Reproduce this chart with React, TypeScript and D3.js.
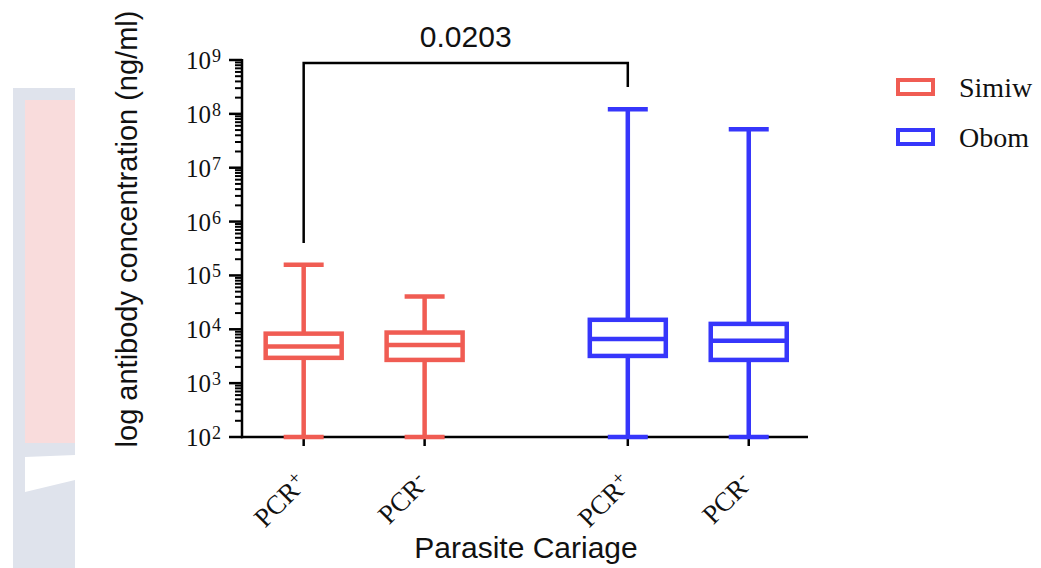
import React from "react";
import * as d3 from "d3";

const categories = ["PCR+", "PCR-", "PCR+", "PCR-"];
const labelBase = ["PCR", "PCR", "PCR", "PCR"];
const labelSup = ["+", "-", "+", "-"];
const groups = ["Simiw", "Simiw", "Obom", "Obom"];
const slots = [0, 1, 2.68, 3.68];
const mins = [100, 100, 100, 100];
const q1s = [2950, 2700, 3200, 2700];
const medians = [4800, 5100, 6600, 6100];
const q3s = [8300, 8700, 15000, 12600];
const maxs = [158000, 40700, 122000000, 52000000];
const legendNames = ["Simiw", "Obom"];
const pValue = "0.0203";
const yTitle = "log antibody concentration (ng/ml)";
const xTitle = "Parasite Cariage";

const W = 1041;
const H = 568;
const colors: Record<string, string> = { Simiw: "#f05c53", Obom: "#3636fb" };
const SERIF = "'Liberation Serif', 'Times New Roman', serif";
const SANS = "'Liberation Sans', Arial, Helvetica, sans-serif";

export default function App() {
  const x = d3.scaleLinear().domain([-0.51, 4.17]).range([242, 808]);
  const y = d3.scaleLog().domain([1e2, 1e9]).range([437, 60]);
  const ticks = y.ticks();
  const isMajor = (v: number) => Math.abs(Math.log10(v) - Math.round(Math.log10(v))) < 1e-9;

  const boxW = 76;
  const capW = 40;
  const sw = 4.5;

  const bx0 = x(slots[0]);
  const bx1 = x(slots[2]);
  const bracketY = 63;

  return (
    <svg width={W} height={H} style={{ position: "absolute", left: 0, top: 0, background: "#fff" }}>
      {/* background fragments at left */}
      <rect x={13} y={88} width={62} height={480} fill="#dfe3ec" />
      <rect x={25} y={100} width={50} height={343} fill="#f9dcdc" />
      <polygon points="25,457 75,455 75,480 25,492" fill="#ffffff" />

      {/* Y axis */}
      <line x1={242} x2={242} y1={y(1e9) - 1} y2={y(1e2) + 1.25} stroke="#000" strokeWidth={2.5} />
      {ticks.map((t, i) => (
        <line
          key={"t" + i}
          x1={isMajor(t) ? 229 : 235}
          x2={242}
          y1={y(t)}
          y2={y(t)}
          stroke="#000"
          strokeWidth={isMajor(t) ? 2.5 : 2}
        />
      ))}
      {ticks.filter(isMajor).map((t, i) => (
        <text key={"l" + i} x={211} y={y(t) + 9} textAnchor="end" fontFamily={SERIF} fontSize={25} fill="#111">
          10
          <tspan x={212} y={y(t) + 2} textAnchor="start" fontSize={18}>
            {Math.round(Math.log10(t))}
          </tspan>
        </text>
      ))}

      {/* X axis */}
      <line x1={241} x2={808} y1={437} y2={437} stroke="#000" strokeWidth={2.5} />
      {slots.map((s, i) => (
        <line key={"xt" + i} x1={x(s)} x2={x(s)} y1={437} y2={446} stroke="#000" strokeWidth={2.5} />
      ))}
      {slots.map((s, i) => (
        <text
          key={"xl" + i}
          transform={`translate(${x(s) + 5},${485}) rotate(-45)`}
          textAnchor="end"
          fontFamily={SERIF}
          fontSize={27}
          fill="#111"
        >
          {labelBase[i]}
          <tspan dy={-9} fontSize={19}>{labelSup[i]}</tspan>
        </text>
      ))}

      {/* boxes */}
      {slots.map((s, i) => {
        const cx = x(s);
        const c = colors[groups[i]];
        return (
          <g key={"b" + i} stroke={c} strokeWidth={sw} fill="none">
            <line x1={cx} x2={cx} y1={y(maxs[i])} y2={y(q3s[i])} />
            <line x1={cx} x2={cx} y1={y(q1s[i])} y2={y(mins[i])} />
            <line x1={cx - capW / 2} x2={cx + capW / 2} y1={y(maxs[i])} y2={y(maxs[i])} />
            <line x1={cx - capW / 2} x2={cx + capW / 2} y1={y(mins[i])} y2={y(mins[i])} />
            <rect x={cx - boxW / 2} y={y(q3s[i])} width={boxW} height={y(q1s[i]) - y(q3s[i])} />
            <line x1={cx - boxW / 2} x2={cx + boxW / 2} y1={y(medians[i])} y2={y(medians[i])} />
          </g>
        );
      })}

      {/* significance bracket */}
      <path
        d={`M${bx0},243 L${bx0},${bracketY} L${bx1},${bracketY} L${bx1},87`}
        fill="none"
        stroke="#000"
        strokeWidth={2.5}
      />
      <text x={(bx0 + bx1) / 2} y={47} textAnchor="middle" fontFamily={SANS} fontSize={30} fill="#111">
        {pValue}
      </text>

      {/* axis titles */}
      <text transform="translate(137,229) rotate(-90)" textAnchor="middle" fontFamily={SANS} fontSize={29} fill="#111">
        {yTitle}
      </text>
      <text x={526} y={558} textAnchor="middle" fontFamily={SANS} fontSize={30} fill="#111">
        {xTitle}
      </text>

      {/* legend */}
      {legendNames.map((n, i) => (
        <g key={"lg" + i}>
          <rect x={898} y={80 + i * 50} width={35} height={14} fill="none" stroke={colors[n]} strokeWidth={4} />
          <text x={959} y={97 + i * 50} fontFamily={SERIF} fontSize={28} fill="#111">
            {n}
          </text>
        </g>
      ))}
    </svg>
  );
}
